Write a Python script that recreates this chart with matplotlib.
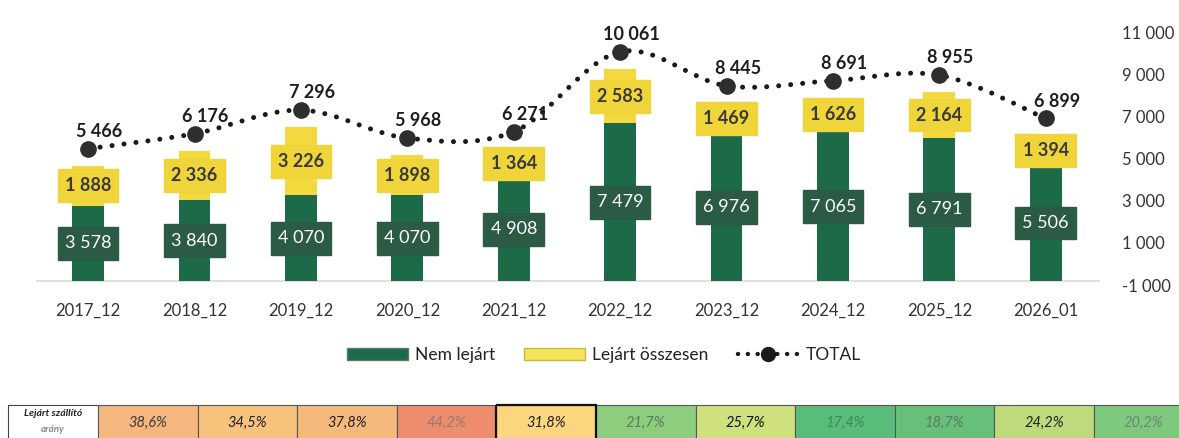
import matplotlib.pyplot as plt
from matplotlib.patches import Rectangle, PathPatch, Patch
from matplotlib.lines import Line2D
from matplotlib.path import Path
from matplotlib.ticker import FuncFormatter
import numpy as np

plt.rcParams['font.family'] = ['Lato', 'DejaVu Sans']

periods = ["2017_12", "2018_12", "2019_12", "2020_12", "2021_12",
           "2022_12", "2023_12", "2024_12", "2025_12", "2026_01"]
nem_lejart = [3578, 3840, 4070, 4070, 4908, 7479, 6976, 7065, 6791, 5506]
lejart = [1888, 2336, 3226, 1898, 1364, 2583, 1469, 1626, 2164, 1394]
total = [5466, 6176, 7296, 5968, 6271, 10061, 8445, 8691, 8955, 6899]

ratio_labels = ["38,6%", "34,5%", "37,8%", "44,2%", "31,8%", "21,7%",
                "25,7%", "17,4%", "18,7%", "24,2%", "20,2%"]
ratio_colors = ["#f5b77d", "#f7c27c", "#f5b97c", "#ee8d6d", "#fcd57f", "#8ccd7e",
                "#cfe17c", "#59bc7a", "#66c07b", "#bdda7c", "#7ec97e"]
ratio_text = ["#3a3a3a", "#222222", "#222222", "#9a7a70", "#222222", "#5c7a5c",
              "#111111", "#3f8a5c", "#5a7a62", "#222222", "#6a8a70"]

GREEN = "#1d6a48"
YELLOW = "#f3d83e"
GREEN_BOX = "#2b5a45"
YELLOW_BOX = "#f0d53a"


def fmt(v):
    return f"{v:,.0f}".replace(",", " ")


W, H = 1179, 438
fig = plt.figure(figsize=(W / 100, H / 100), dpi=100)

ax = fig.add_axes([36 / W, (H - 285) / H, (1100 - 36) / W, 253 / H])
ax2 = ax.twinx()

x = np.arange(len(periods))
ax.set_xlim(-0.49, 9.51)
ax.set_ylim(-190, 11810)
ax2.set_ylim(-1000, 11000)

# bars
ax.bar(x, nem_lejart, width=0.3, color=GREEN, zorder=2)
ax.bar(x, lejart, bottom=nem_lejart, width=0.3, color=YELLOW, zorder=2)
ax.axhline(0, color="#d9d9d9", lw=1.2, zorder=1)

# value boxes inside bars
bw, bh = 0.57, 1560
for i in range(len(periods)):
    yc = nem_lejart[i] / 2
    ax.add_patch(Rectangle((i - bw / 2, yc - bh / 2), bw, bh, color=GREEN_BOX, zorder=3))
    ax.text(i, yc, fmt(nem_lejart[i]), color="white", ha="center", va="center",
            fontsize=13, zorder=4)
    yc2 = nem_lejart[i] + lejart[i] / 2
    ax.add_patch(Rectangle((i - bw / 2, yc2 - bh / 2), bw, bh, color=YELLOW_BOX, zorder=3))
    ax.text(i, yc2, fmt(lejart[i]), color="#3a3a3a", ha="center", va="center",
            fontsize=13, fontweight="bold", zorder=4)

# smoothed dotted TOTAL line
pts = np.column_stack([x, total]).astype(float)
n = len(pts)
verts = [pts[0]]
codes = [Path.MOVETO]
for i in range(n - 1):
    p0 = pts[i - 1] if i > 0 else pts[i]
    p1 = pts[i]
    p2 = pts[i + 1]
    p3 = pts[i + 2] if i + 2 < n else pts[i + 1]
    verts += [p1 + (p2 - p0) / 6, p2 - (p3 - p1) / 6, p2]
    codes += [Path.CURVE4] * 3
line = PathPatch(Path(verts, codes), fill=False, edgecolor="#1a1a1a", lw=3.6,
                 linestyle=(0, (0.01, 2.4)), capstyle="round", zorder=4)
ax2.add_patch(line)
ax2.plot(x, total, "o", ms=11, color="#2e2e2e", zorder=5)

for i, t in enumerate(total):
    ax2.annotate(fmt(t), (i, t), xytext=(8, 12.5), textcoords="offset points",
                 ha="center", va="center", fontsize=13, fontweight="bold",
                 color="#1e1e1e", zorder=6)

# axes styling
for a in (ax, ax2):
    for s in a.spines.values():
        s.set_visible(False)
ax.set_yticks([])
ax.set_xticks(x)
ax.set_xticklabels(periods, fontsize=12, color="#333333")
ax.tick_params(axis="x", length=0, pad=13)
ax2.set_yticks(range(-1000, 11001, 2000))
ax2.yaxis.set_major_formatter(FuncFormatter(lambda v, p: fmt(v)))
ax2.tick_params(axis="y", length=0, pad=16, labelsize=12, labelcolor="#333333")

# legend
handles = [
    Patch(facecolor=GREEN, edgecolor="#5a7a6a"),
    Patch(facecolor="#f5e35a", edgecolor="#c9b840"),
    Line2D([0], [0], color="#1a1a1a", lw=3.2, linestyle=(0, (0.01, 2.2)),
           dash_capstyle="round", marker="o", ms=10, markerfacecolor="#1a1a1a"),
]
fig.legend(handles, ["Nem lejárt", "Lejárt összesen", "TOTAL"],
           loc="center", bbox_to_anchor=(604 / W, (H - 355) / H), ncol=3,
           frameon=False, fontsize=12.5, handlelength=3.5, handleheight=0.75,
           handletextpad=0.4, columnspacing=1.7, labelcolor="#222222")

# ratio table at the bottom
tab = fig.add_axes([0, 0, 1, 1], zorder=-1)
tab.set_xlim(0, W)
tab.set_ylim(H, 0)
tab.axis("off")
top, cell_h = 405, 40
tab.add_patch(Rectangle((8, top), 90, cell_h, facecolor="white",
                        edgecolor="#444444", lw=0.8))
tab.text(53, top + 9, "Lejárt szállító", ha="center", va="center", fontsize=7.5,
         fontweight="bold", style="italic", color="#222222")
tab.text(53, top + 24, "arány", ha="center", va="center", fontsize=7,
         fontweight="bold", style="italic", color="#888888")
cw = 99.6
for i, (lab, col, tc) in enumerate(zip(ratio_labels, ratio_colors, ratio_text)):
    x0 = 98 + i * cw
    tab.add_patch(Rectangle((x0, top), cw, cell_h, facecolor=col,
                            edgecolor="#555555", lw=0.8))
    tab.text(x0 + cw / 2, top + 18, lab, ha="center", va="center", fontsize=10.5,
             style="italic", color=tc)
# highlighted cell
tab.add_patch(Rectangle((98 + 4 * cw, top), cw, cell_h, fill=False,
                        edgecolor="#111111", lw=1.6))

fig.savefig("out.png", dpi=100)
